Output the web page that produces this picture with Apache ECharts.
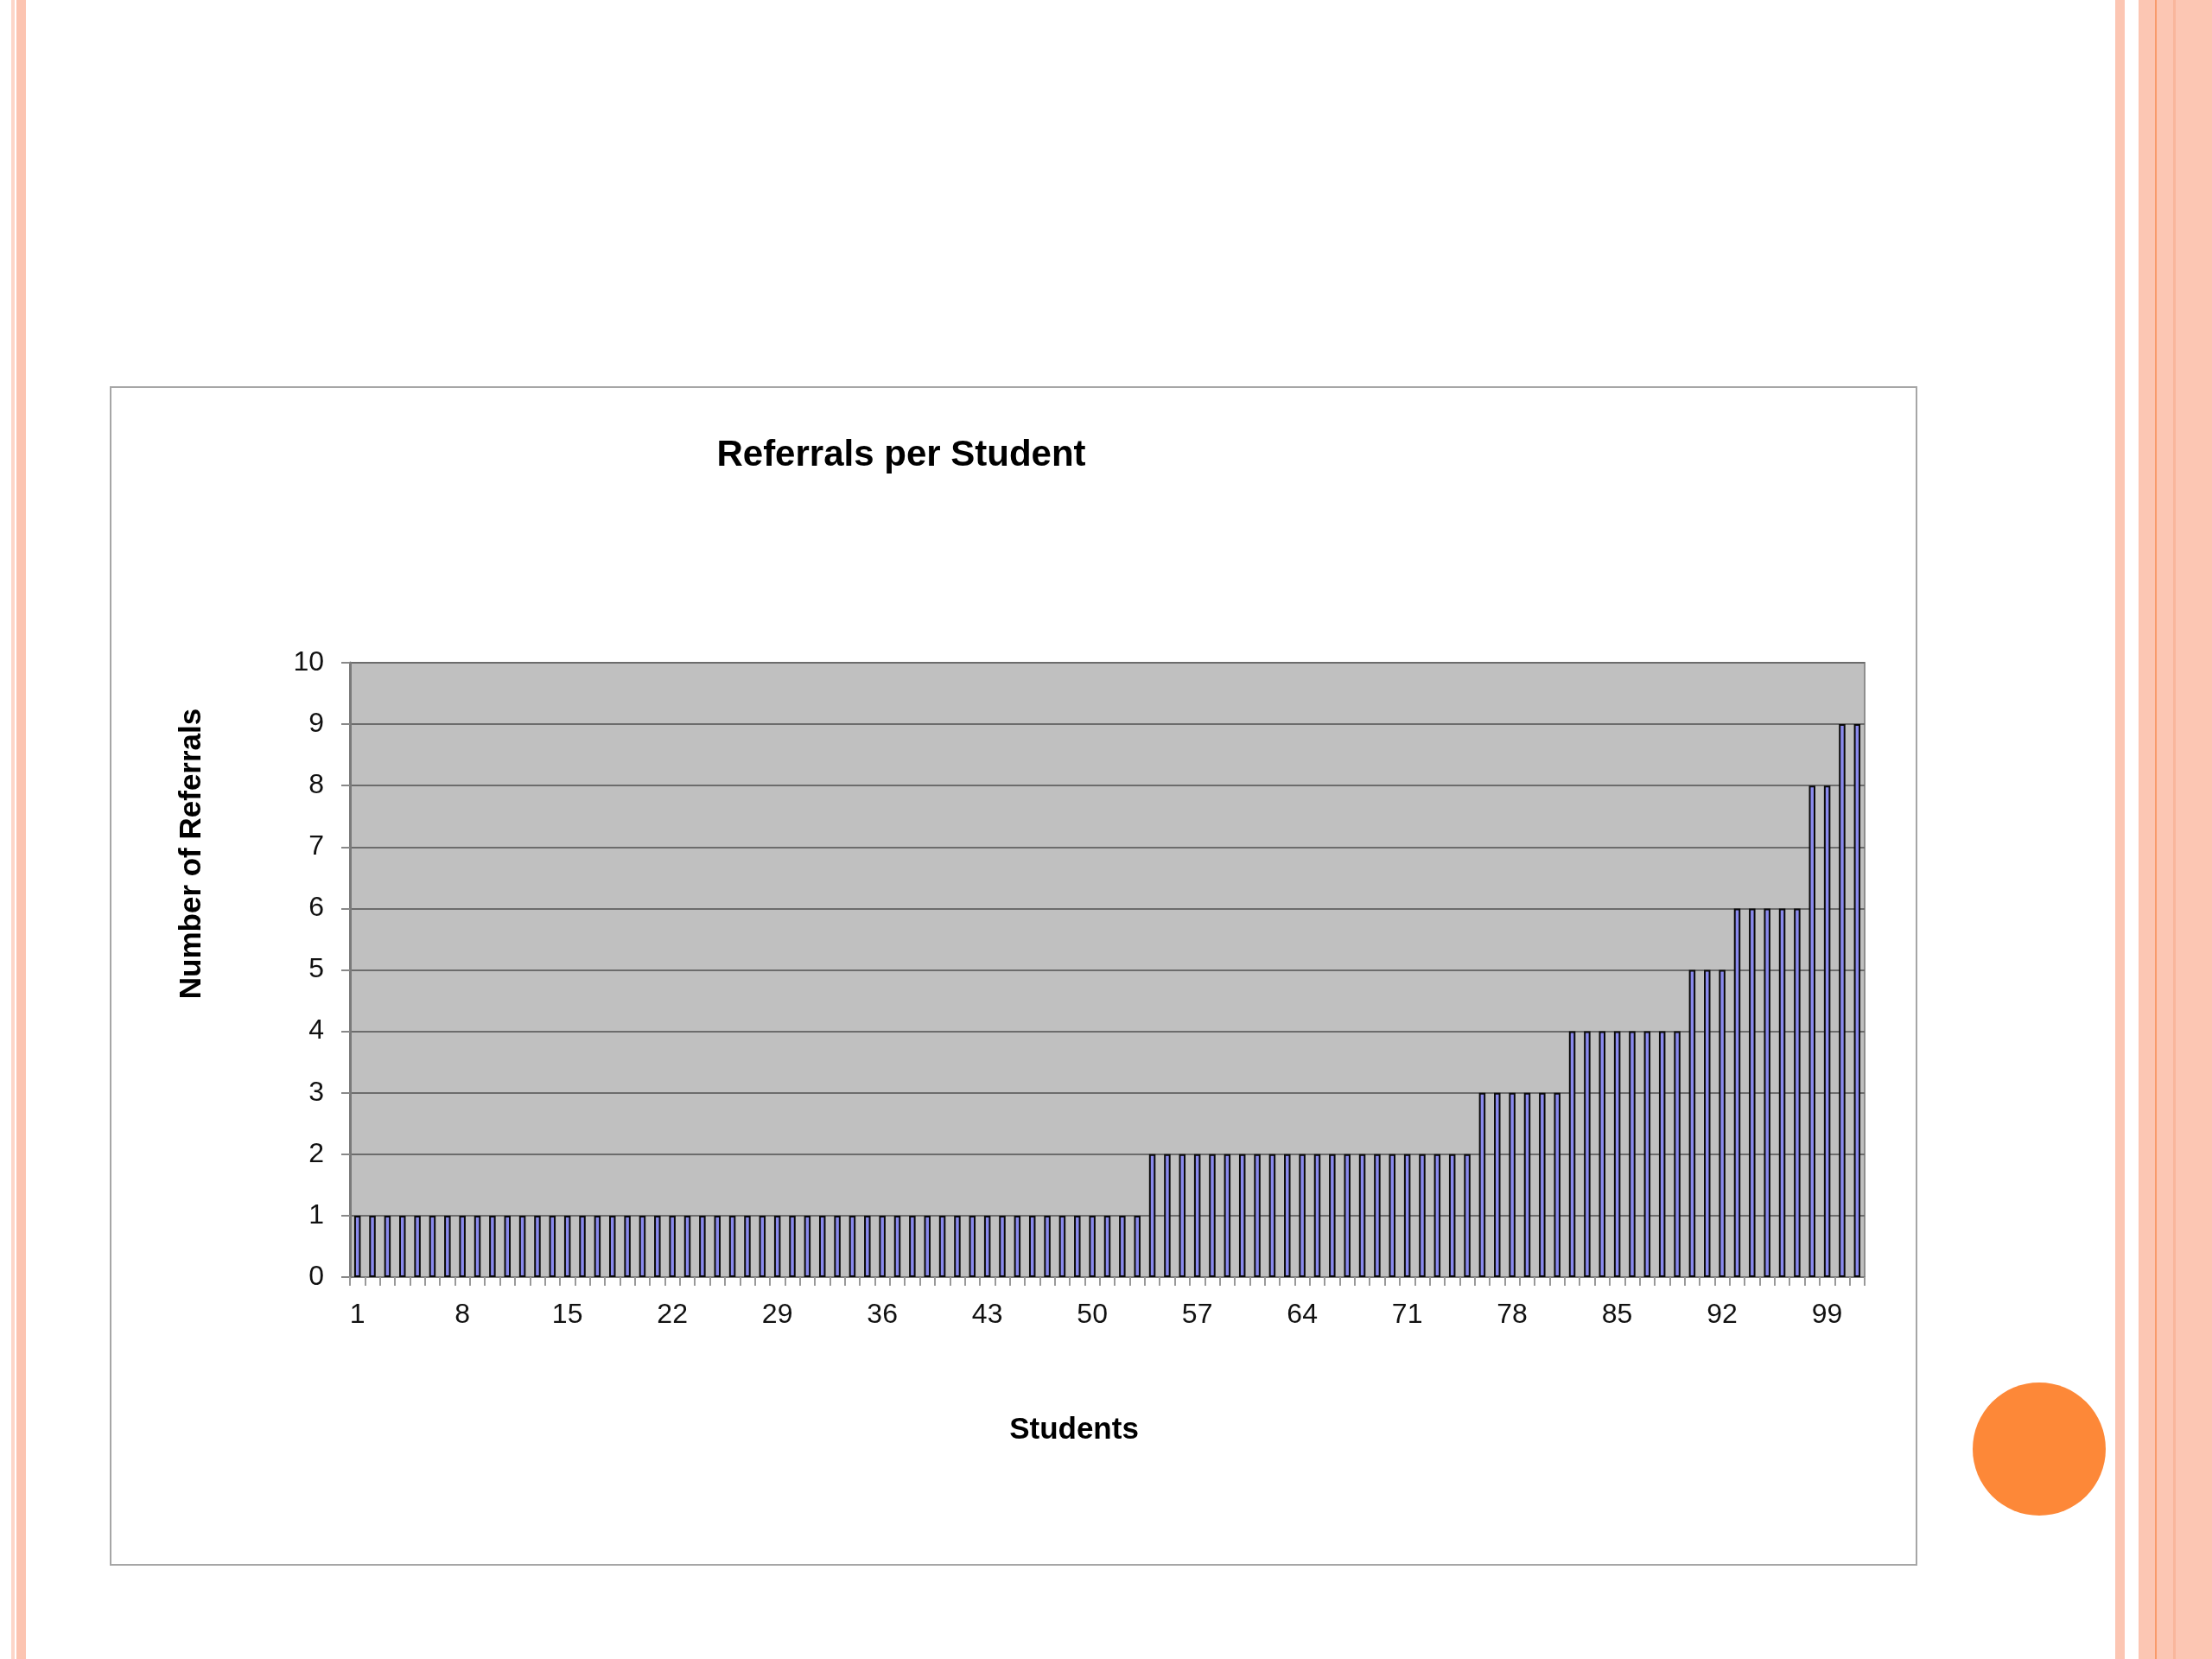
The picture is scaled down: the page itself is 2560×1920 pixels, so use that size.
<!DOCTYPE html>
<html lang="en">
<head>
  <meta charset="UTF-8">
  <script src="https://cdn.jsdelivr.net/npm/echarts@6/dist/echarts.min.js"></script>
  <title>Referrals per Student</title>
  <style>
    html, body { margin: 0; padding: 0; background: #fff; }
    #chart { width: 2560px; height: 1920px; }
  </style>
</head>
<body>
  <div id="chart"></div>
  <script>
    // referrals for each of the 101 students, sorted ascending
    const referrals = [
      1, 1, 1, 1, 1, 1, 1, 1, 1, 1,
      1, 1, 1, 1, 1, 1, 1, 1, 1, 1,
      1, 1, 1, 1, 1, 1, 1, 1, 1, 1,
      1, 1, 1, 1, 1, 1, 1, 1, 1, 1,
      1, 1, 1, 1, 1, 1, 1, 1, 1, 1,
      1, 1, 1, 2, 2, 2, 2, 2, 2, 2,
      2, 2, 2, 2, 2, 2, 2, 2, 2, 2,
      2, 2, 2, 2, 2, 3, 3, 3, 3, 3,
      3, 4, 4, 4, 4, 4, 4, 4, 4, 5,
      5, 5, 6, 6, 6, 6, 6, 8, 8, 9,
      9
    ];
    const students = referrals.map((_, i) => String(i + 1));
    const yTicks = [0, 1, 2, 3, 4, 5, 6, 7, 8, 9, 10];

    const font = '"Liberation Sans", Arial, sans-serif';
    const chart = echarts.init(document.getElementById('chart'));

    const option = {
      backgroundColor: '#ffffff',
      animation: false,
      title: {
        text: 'Referrals per Student',
        left: 1043,
        top: 506,
        textAlign: 'center',
        padding: 0,
        textStyle: { fontFamily: font, fontSize: 42, fontWeight: 'bold', color: '#000' }
      },
      grid: {
        left: 405,
        top: 767,
        width: 1753,
        height: 711,
        show: true,
        backgroundColor: '#c0c0c0',
        borderColor: '#8e8e8e',
        borderWidth: 2,
        containLabel: false
      },
      xAxis: {
        type: 'category',
        data: students,
        boundaryGap: true,
        axisLine: { lineStyle: { color: '#7a7a7a', width: 2 } },
        axisTick: { show: true, interval: 0, length: 10, lineStyle: { color: '#999', width: 2 } },
        axisLabel: {
          interval: 6,
          margin: 28,
          fontFamily: font,
          fontSize: 32,
          color: '#111'
        },
        splitLine: { show: false }
      },
      yAxis: {
        type: 'value',
        min: yTicks[0],
        max: yTicks[yTicks.length - 1],
        interval: 1,
        axisLine: { show: true, lineStyle: { color: '#7a7a7a', width: 3 } },
        axisTick: { show: true, length: 10, lineStyle: { color: '#888', width: 2 } },
        axisLabel: { margin: 30, fontFamily: font, fontSize: 32, color: '#111' },
        splitLine: { lineStyle: { color: '#6c6c6c', width: 2 } }
      },
      series: [{
        type: 'bar',
        data: referrals,
        barWidth: 7.5,
        itemStyle: { color: '#8a8aec', borderColor: '#0a0a0a', borderWidth: 2 }
      }],
      graphic: [
        // slide decoration
        { type: 'rect', shape: { x: 13, y: 0, width: 4, height: 1920 }, style: { fill: '#fdd6c9' }, silent: true },
        { type: 'rect', shape: { x: 19, y: 0, width: 11, height: 1920 }, style: { fill: '#fcc4b1' }, silent: true },
        { type: 'rect', shape: { x: 2448, y: 0, width: 11, height: 1920 }, style: { fill: '#fcc6b3' }, silent: true },
        { type: 'rect', shape: { x: 2475, y: 0, width: 85, height: 1920 }, style: { fill: '#fcc6b3' }, silent: true },
        { type: 'rect', shape: { x: 2494, y: 0, width: 2, height: 1920 }, style: { fill: '#f99a6a' }, silent: true },
        { type: 'rect', shape: { x: 2515, y: 0, width: 3, height: 1920 }, style: { fill: '#f9b69c' }, silent: true },
        { type: 'circle', shape: { cx: 2360, cy: 1677, r: 77 }, style: { fill: '#fd8838' }, silent: true },
        // chart frame
        {
          type: 'rect',
          shape: { x: 128, y: 448, width: 2090, height: 1363 },
          style: { fill: 'none', stroke: '#a6a6a6', lineWidth: 2 },
          silent: true, z: -1
        },
        // axis titles
        {
          type: 'text',
          x: 222, y: 988,
          rotation: Math.PI / 2,
          style: {
            text: 'Number of Referrals',
            fontFamily: font, fontSize: 35, fontWeight: 'bold', fill: '#000',
            align: 'center', verticalAlign: 'middle'
          }
        },
        {
          type: 'text',
          x: 1243, y: 1655,
          style: {
            text: 'Students',
            fontFamily: font, fontSize: 35, fontWeight: 'bold', fill: '#000',
            align: 'center', verticalAlign: 'middle'
          }
        }
      ]
    };

    chart.setOption(option);
  </script>
</body>
</html>
